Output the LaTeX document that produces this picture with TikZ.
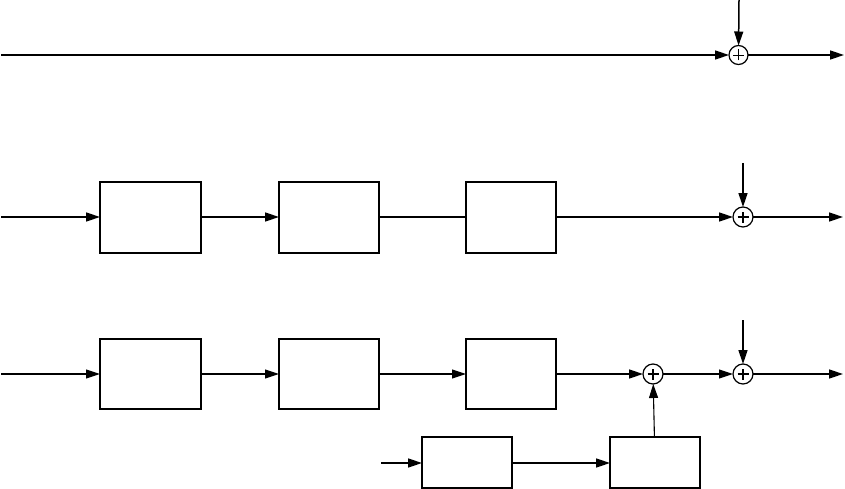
\documentclass[tikz,border=0pt]{standalone}
\usetikzlibrary{arrows.meta}
\begin{document}
\begin{tikzpicture}[x=1pt,y=-1pt,
  thk/.style={line width=1.5pt},
  thn/.style={line width=1.1pt},
  arr/.style={-{Triangle[length=14pt,width=9pt]}},
  blk/.style={draw,line width=1.5pt,rectangle,inner sep=0pt,outer sep=0pt},
  sumc/.style={draw,circle,line width=1.2pt,inner sep=0pt,outer sep=0pt,minimum size=20pt,
    path picture={\draw[line width=#1]
      ([xshift=-5.5pt]path picture bounding box.center) -- ([xshift=5.5pt]path picture bounding box.center)
      ([yshift=-5.5pt]path picture bounding box.center) -- ([yshift=5.5pt]path picture bounding box.center);}},
  sumc/.default=1.4pt]
\useasboundingbox (0,0) rectangle (845,489);
% Row 1
\coordinate (a0) at (1,55);
\coordinate (at) at (739,0);
\coordinate (ao) at (844,55);
\node[sumc=0.9pt,minimum size=19pt] (as) at (738.5,55) {};
\draw[thk,arr] (a0) -- (as);
\draw[thk,arr] (at) -- (as);
\draw[thk,arr] (as) -- (ao);
% Row 2
\coordinate (b0) at (1,217);
\node[blk,minimum width=101pt,minimum height=71pt] (b1) at (150.5,217.5) {};
\node[blk,minimum width=100pt,minimum height=71pt] (b2) at (329,217.5) {};
\node[blk,line width=1.2pt,minimum width=90pt,minimum height=71pt] (b3) at (511,217.5) {};
\node[sumc] (bs) at (743,217) {};
\coordinate (bt) at (743,163);
\coordinate (bo) at (843,217);
\draw[thk,arr] (b0) -- (b1.west|-b0);
\draw[thk,arr] (b1.east|-b0) -- (b2.west|-b0);
\draw[thk] (b2.east|-b0) -- (b3.west|-b0);
\draw[thk,arr] (b3.east|-b0) -- (bs);
\draw[thk,arr] (bt) -- (bs);
\draw[thk,arr] (bs) -- (bo);
% Row 3
\coordinate (c0) at (1,374);
\node[blk,minimum width=101pt,minimum height=70pt] (c1) at (150.5,374) {};
\node[blk,minimum width=100pt,minimum height=70pt] (c2) at (329,374) {};
\node[blk,minimum width=90pt,minimum height=70pt] (c3) at (511,374) {};
\node[sumc] (cs1) at (653,374) {};
\node[sumc] (cs2) at (743,374) {};
\coordinate (ct) at (743,320);
\coordinate (co) at (843,374);
\node[blk,line width=1.1pt,minimum width=90pt,minimum height=51pt] (c4) at (467,462.5) {};
\node[blk,line width=1.1pt,minimum width=90pt,minimum height=51pt] (c5) at (655,462.5) {};
\coordinate (c4in) at (381,463);
\draw[thn,arr] (c0) -- (c1);
\draw[thn,arr] (c1) -- (c2);
\draw[thn,arr] (c2) -- (c3);
\draw[thk,arr] (c3) -- (cs1);
\draw[thn,arr] (cs1) -- (cs2);
\draw[thk,arr] (ct) -- (cs2);
\draw[thk,arr] (cs2) -- (co);
\draw[thk,arr] (c4in) -- (c4.west|-c4in);
\draw[thk,arr] (c4.east|-c4in) -- (c5.west|-c4in);
\draw[thn,arr] (c5) -- (cs1);
\end{tikzpicture}
\end{document}
